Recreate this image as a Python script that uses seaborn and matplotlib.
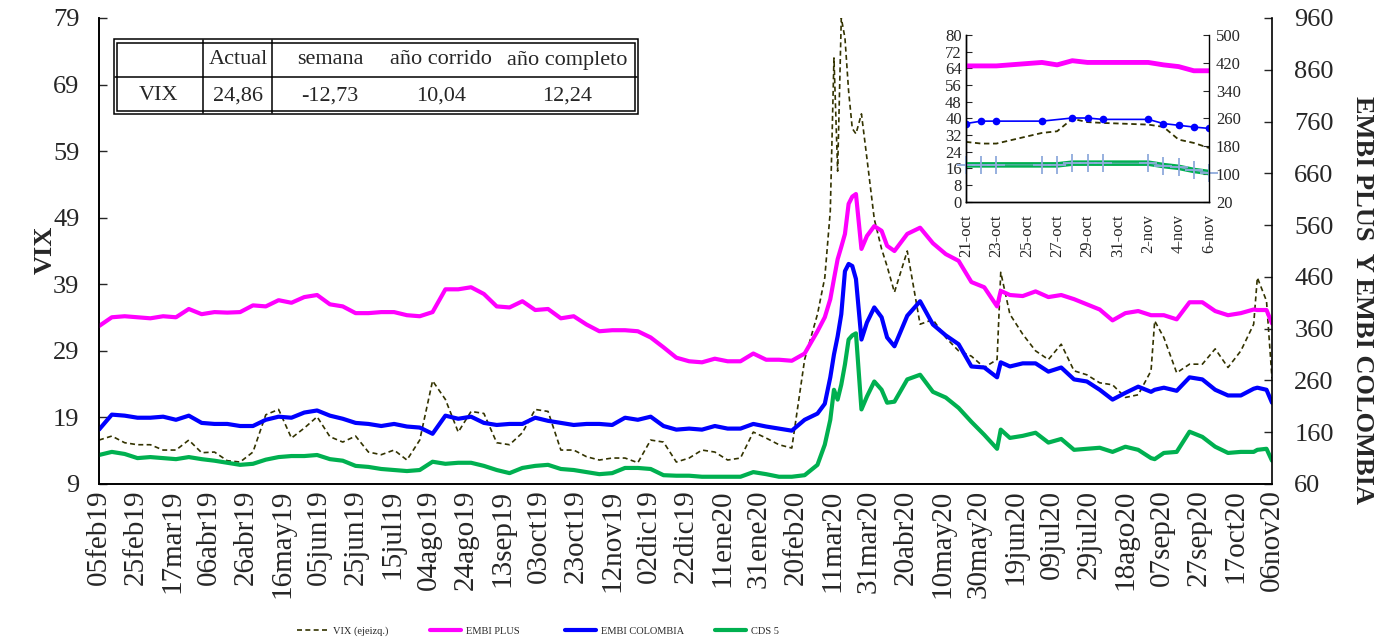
import numpy as np
import pandas as pd
import matplotlib
matplotlib.use('Agg')
import matplotlib.pyplot as plt
from matplotlib.lines import Line2D
from matplotlib.patches import Rectangle
import seaborn as sns

# ---- main series (day offsets from 05feb19) ----
START = pd.Timestamp('2019-02-05')
END = pd.Timestamp('2020-11-06')

dias = [0, 7, 14, 21, 28, 35, 42, 49, 56, 63, 70, 77, 84, 91, 98, 105, 112,
        119, 126, 133, 140, 147, 154, 161, 168, 175, 182, 189, 196, 203, 210, 217, 224,
        231, 238, 245, 252, 259, 266, 273, 280, 287, 294, 301, 308, 315, 322, 329, 336,
        343, 350, 357, 364, 371,
        378, 385, 392, 396, 399, 401, 403, 405, 407, 409, 411, 413, 416, 419, 423, 427,
        430, 434, 441,
        448, 455, 462, 469, 476, 483, 490, 492, 497, 504, 511, 518, 525, 532, 539, 546,
        553, 560, 567, 574, 576, 581, 588, 595, 602, 609, 616, 623, 630, 632, 637, 640]

vix = [15.6, 16.2, 15.2, 14.9, 14.9, 14.1, 14.1, 15.6, 13.7, 13.8, 12.5, 12.3, 13.8, 19.4, 20.2, 15.9, 17.4,
       19.1, 16.1, 15.3, 16.2, 13.8, 13.4, 14.1, 12.6, 15.6, 24.5, 21.7, 16.8, 19.9, 19.6, 15.2, 14.9,
       16.7, 20.2, 19.9, 14.1, 14.1, 13.1, 12.6, 12.9, 12.9, 12.2, 15.6, 15.3, 12.3, 12.9, 14.1, 13.8,
       12.6, 12.9, 16.8, 15.9, 14.9,
       14.4, 27.7, 34.5, 40.0, 50.0, 73.0, 56.0, 79.0, 76.0, 68.0, 62.4, 61.6, 64.6, 57.9, 48.8, 44.3,
       41.7, 37.8, 44.0,
       33.0, 33.7, 31.0, 29.0, 28.2, 26.5, 27.7, 40.8, 34.5, 31.5, 29.0, 27.7, 30.0, 26.0, 25.4, 24.2,
       23.9, 22.0, 22.4, 26.0, 33.5, 31.0, 25.7, 27.0, 27.0, 29.3, 26.5, 29.0, 33.0, 40.0, 36.5, 24.86]

embi_plus = [365, 382, 384, 382, 380, 384, 382, 398, 388, 392, 391, 392, 405, 403, 415, 410, 421,
             425, 407, 403, 390, 390, 392, 392, 386, 384, 392, 436, 436, 440, 427, 403, 401,
             413, 396, 398, 380, 384, 368, 355, 357, 357, 355, 343, 324, 304, 297, 295, 302,
             297, 297, 312, 300, 300,
             298, 312, 355, 382, 417, 456, 494, 518, 543, 601, 615, 620, 514, 539, 558, 549,
             520, 510, 543,
             555, 525, 504, 491, 450, 440, 403, 433, 425, 423, 432, 421, 425, 417, 407, 397,
             376, 390, 394, 386, 386, 386, 378, 411, 411, 394, 386, 390, 397, 396, 396, 370]

embi_col = [165, 194, 192, 188, 188, 190, 184, 192, 178, 176, 176, 172, 172, 184, 190, 188, 198,
            202, 192, 186, 178, 176, 172, 176, 171, 169, 157, 192, 186, 190, 178, 174, 176,
            176, 188, 182, 178, 174, 176, 176, 174, 188, 184, 190, 172, 165, 167, 165, 172,
            167, 167, 176, 171, 167,
            163, 184, 196, 215, 266, 310, 345, 388, 471, 485, 481, 456, 339, 372, 401, 382,
            343, 326, 385,
            413, 368, 347, 330, 287, 285, 266, 295, 287, 293, 293, 277, 285, 262, 258, 242,
            223, 236, 248, 238, 242, 246, 240, 266, 262, 242, 231, 231, 244, 246, 242, 217]

cds5 = [116, 122, 118, 110, 112, 110, 108, 112, 108, 105, 101, 97, 99, 107, 112, 114, 114,
        116, 108, 105, 95, 93, 89, 87, 85, 87, 103, 99, 101, 101, 95, 87, 81,
        91, 95, 97, 89, 87, 83, 79, 81, 91, 91, 89, 77, 76, 76, 74, 74,
        74, 74, 83, 79, 74,
        74, 77, 97, 136, 184, 242, 223, 252, 291, 339, 347, 351, 204, 229, 258, 242,
        217, 219, 262,
        271, 238, 227, 207, 180, 155, 128, 165, 149, 153, 159, 140, 147, 126, 128, 130,
        122, 132, 126, 110, 108, 120, 122, 161, 151, 132, 120, 122, 122, 126, 128, 105]

# ---- inset (last weeks) ----
fechas_zoom = ['2020-10-21', '2020-10-22', '2020-10-23', '2020-10-26', '2020-10-27',
               '2020-10-28', '2020-10-29', '2020-10-30', '2020-11-02', '2020-11-03',
               '2020-11-04', '2020-11-05', '2020-11-06']
vix_zoom = [28.7, 27.9, 27.9, 33.0, 33.8, 39.8, 38.2, 37.8, 37.0, 35.9, 29.8, 28.2, 25.8]
plus_zoom = [411, 411, 411, 421, 414, 426, 421, 421, 421, 414, 409, 397, 397]
col_zoom = [245, 252, 252, 252, np.nan, 261, 261, 257, 257, 245, 240, 235, 231]
cds_zoom = [126, 126, 126, 126, 126, 131, 131, 131, 131, 124, 119, 110, 104]

# ---- table ----
tabla_cols = ['', 'Actual', 'semana', 'año corrido', 'año completo']
tabla_fila = ['VIX', '24,86', '-12,73', '10,04', '12,24']

meses = {1: 'ene', 2: 'feb', 3: 'mar', 4: 'abr', 5: 'may', 6: 'jun',
         7: 'jul', 8: 'ago', 9: 'sep', 10: 'oct', 11: 'nov', 12: 'dic'}

C_VIX = '#333300'
C_PLUS = '#FF00FF'
C_COL = '#0000FF'
C_CDS = '#00B050'


def main():
    sns.set_style('white')
    plt.rcParams['font.family'] = ['Liberation Serif', 'DejaVu Serif']

    df = pd.DataFrame({
        'fecha': START + pd.to_timedelta(dias, unit='D'),
        'vix': vix, 'embi_plus': embi_plus, 'embi_col': embi_col, 'cds5': cds5,
    })

    W, H = 1383, 640
    fig = plt.figure(figsize=(W / 100, H / 100), dpi=100)
    ax = fig.add_axes([99 / W, 1 - 484 / H, (1272 - 99) / W, (484 - 18) / H])
    ax2 = ax.twinx()

    sns.lineplot(data=df, x='fecha', y='vix', ax=ax, color=C_VIX, lw=1.2,
                 linestyle=(0, (3, 2)))
    sns.lineplot(data=df, x='fecha', y='embi_plus', ax=ax2, color=C_PLUS, lw=3)
    sns.lineplot(data=df, x='fecha', y='embi_col', ax=ax2, color=C_COL, lw=3)
    sns.lineplot(data=df, x='fecha', y='cds5', ax=ax2, color=C_CDS, lw=3)

    ax.set_xlim(START, END)
    ax.set_ylim(9, 79)
    ax.set_yticks(np.arange(9, 80, 10))
    ax2.set_ylim(60, 960)
    ax2.set_yticks(np.arange(60, 961, 100))

    ticks = pd.date_range(START, END, freq='20D')
    ax.set_xticks(ticks)
    ax.set_xticklabels([f"{d.day:02d}{meses[d.month]}{d.year % 100:02d}" for d in ticks],
                       rotation=90, fontsize=21)
    ax.tick_params(axis='x', direction='in', length=6, pad=4, width=1)
    ax.tick_params(axis='y', direction='in', length=6, pad=14, labelsize=19, width=1)
    ax2.tick_params(axis='y', direction='in', length=6, pad=16, labelsize=19, width=1)
    for a in (ax, ax2):
        a.set_xlabel('')
        a.set_ylabel('')
        a.spines['top'].set_visible(False)
        for s in ('left', 'right', 'bottom'):
            a.spines[s].set_color('black')
            a.spines[s].set_linewidth(1.2)
    ax.spines['right'].set_visible(False)

    fig.text(45 / W, 1 - 250 / H, 'VIX', rotation=90, fontsize=19, fontweight='bold',
             ha='center', va='center')
    fig.text(1363 / W, 1 - 300 / H, 'EMBI PLUS  Y EMBI COLOMBIA', rotation=-90, fontsize=19,
             fontweight='bold', ha='center', va='center')

    # table in the upper left corner
    tx0, tx1, ty0, ty1, tym = 115, 637, 40, 113, 77
    for off in (-2.5, 1):
        fig.patches.append(Rectangle(((tx0 - off) / W, 1 - (ty1 + off) / H),
                                     (tx1 - tx0 + 2 * off) / W, (ty1 - ty0 + 2 * off) / H,
                                     transform=fig.transFigure, fill=False,
                                     edgecolor='black', lw=1.1))
    fig.add_artist(Line2D([tx0 / W, tx1 / W], [1 - tym / H] * 2, color='black', lw=1.1))
    for xv in (203, 272):
        fig.add_artist(Line2D([xv / W] * 2, [1 - ty0 / H, 1 - ty1 / H], color='black', lw=1.1))
    centros = [159, 238, 330, 441, 567]
    for c, h, v in zip(centros, tabla_cols, tabla_fila):
        fig.text(c / W, 1 - 60 / H, h, ha='center', va='center', fontsize=16)
        fig.text(c / W, 1 - 96 / H, v, ha='center', va='center', fontsize=16)

    # inset
    dz = pd.DataFrame({'fecha': pd.to_datetime(fechas_zoom), 'vix': vix_zoom,
                       'plus': plus_zoom, 'col': col_zoom, 'cds': cds_zoom})
    axi = fig.add_axes([966 / W, 1 - 201.7 / H, (1209 - 966) / W, (201.7 - 35) / H])
    axi2 = axi.twinx()
    sns.lineplot(data=dz, x='fecha', y='vix', ax=axi, color=C_VIX, lw=1.3,
                 linestyle=(0, (3, 2)))
    sns.lineplot(data=dz, x='fecha', y='plus', ax=axi2, color=C_PLUS, lw=3.5)
    sns.lineplot(data=dz.dropna(subset=['col']), x='fecha', y='col', ax=axi2, color=C_COL,
                 lw=1.2, marker='o', markersize=5.5, markeredgewidth=0)
    sns.lineplot(data=dz, x='fecha', y='cds', ax=axi2, color=C_CDS, lw=4)
    sns.lineplot(data=dz, x='fecha', y='cds', ax=axi2, color='#8FAADC', lw=0.6,
                 marker='+', markersize=13, markeredgewidth=1.3, markeredgecolor='#8FAADC',
                 clip_on=False)
    axi.set_xlim(pd.Timestamp('2020-10-21'), pd.Timestamp('2020-11-06'))
    axi.set_ylim(0, 80)
    axi.set_yticks(np.arange(0, 81, 8))
    axi2.set_ylim(20, 500)
    axi2.set_yticks(np.arange(20, 501, 80))
    zt = pd.date_range('2020-10-21', '2020-11-06', freq='2D')
    axi.set_xticks(zt)
    axi.set_xticklabels([f"{d.day}-{meses[d.month]}" for d in zt], rotation=90, fontsize=12)
    axi.tick_params(axis='x', direction='in', length=4, pad=9)
    axi.tick_params(axis='y', direction='in', length=4, pad=3, labelsize=12)
    axi2.tick_params(axis='y', direction='in', length=4, pad=5, labelsize=12)
    for a in (axi, axi2):
        a.set_xlabel('')
        a.set_ylabel('')
        a.set_facecolor('none')
        a.spines['top'].set_visible(False)
        for s in ('left', 'right', 'bottom'):
            a.spines[s].set_color('black')
            a.spines[s].set_linewidth(1)
    axi.spines['right'].set_visible(False)

    # legend at the bottom: one entry per slot, like the Excel layout
    handles = [Line2D([], [], color=C_VIX, lw=1.2, linestyle=(0, (3, 2))),
               Line2D([], [], color=C_PLUS, lw=3),
               Line2D([], [], color=C_COL, lw=3),
               Line2D([], [], color=C_CDS, lw=3)]
    labels = ['VIX (ejeizq.)', 'EMBI PLUS', 'EMBI COLOMBIA', 'CDS 5']
    slots = [297, 430, 565, 715]
    for h, l, xs in zip(handles, labels, slots):
        fig.legend([h], [l], loc='center left', bbox_to_anchor=(xs / W, 1 - 631 / H),
                   frameon=False, fontsize=7.5, handlelength=3, handletextpad=0.5,
                   borderpad=0, borderaxespad=0)

    fig.savefig('out.png', dpi=100)


if __name__ == '__main__':
    main()
